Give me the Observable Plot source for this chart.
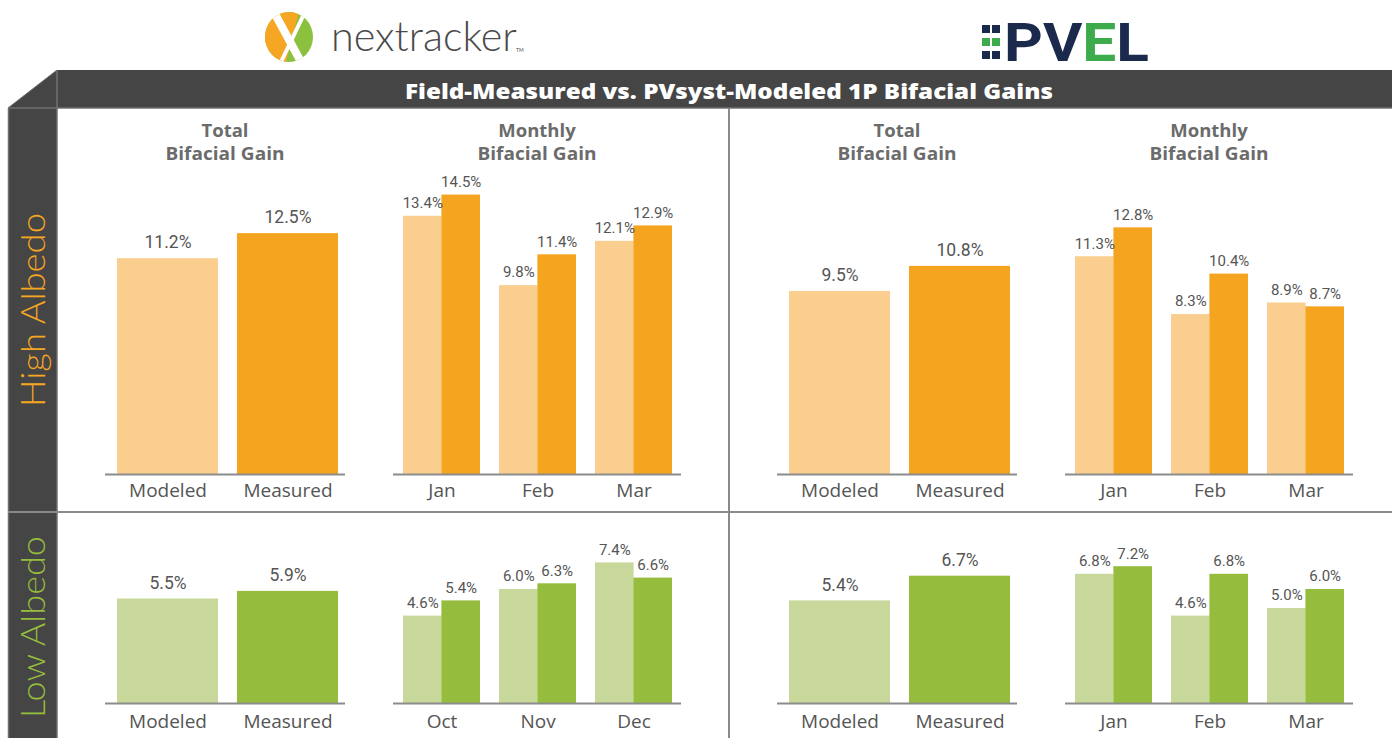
<!DOCTYPE html>
<html>
<head>
<meta charset="utf-8">
<script src="https://cdn.jsdelivr.net/npm/d3@7"></script>
<script src="https://cdn.jsdelivr.net/npm/@observablehq/plot@0.6"></script>
<style>
  html, body { margin: 0; padding: 0; background: #fff; }
  #root { position: relative; width: 1392px; height: 738px; overflow: hidden; background: #fff; }
  .abs { position: absolute; }
</style>
</head>
<body>
<div id="root"></div>
<script>
// ---------------- DATA ----------------
const totalCategories = ["Modeled", "Measured"];

const nxHighTotal = [11.2, 12.5];
const nxHighMonths = ["Jan", "Feb", "Mar"];
const nxHighModeled = [13.4, 9.8, 12.1];
const nxHighMeasured = [14.5, 11.4, 12.9];

const nxLowTotal = [5.5, 5.9];
const nxLowMonths = ["Oct", "Nov", "Dec"];
const nxLowModeled = [4.6, 6.0, 7.4];
const nxLowMeasured = [5.4, 6.3, 6.6];

const pvHighTotal = [9.5, 10.8];
const pvHighMonths = ["Jan", "Feb", "Mar"];
const pvHighModeled = [11.3, 8.3, 8.9];
const pvHighMeasured = [12.8, 10.4, 8.7];

const pvLowTotal = [5.4, 6.7];
const pvLowMonths = ["Jan", "Feb", "Mar"];
const pvLowModeled = [6.8, 4.6, 5.0];
const pvLowMeasured = [7.2, 6.8, 6.0];

const title = "Field-Measured vs. PVsyst-Modeled 1P Bifacial Gains";
const rowLabels = ["High Albedo", "Low Albedo"];
const panelTitles = [["Total", "Bifacial Gain"], ["Monthly", "Bifacial Gain"]];

// ---------------- STYLE ----------------
const orangeLight = "#FACE8F", orangeDark = "#F5A41F";
const greenLight = "#C8D89B", greenDark = "#96BC3D";
const labelColor = "#555555";

const root = document.getElementById("root");
const NS = "http://www.w3.org/2000/svg";

// ---------------- FRAME (decoration) ----------------
function el(tag, attrs, parent, text) {
  const e = document.createElementNS(NS, tag);
  for (const k in attrs) e.setAttribute(k, attrs[k]);
  if (text != null) e.textContent = text;
  parent.appendChild(e);
  return e;
}
const frame = document.createElementNS(NS, "svg");
frame.setAttribute("width", 1392);
frame.setAttribute("height", 738);
frame.setAttribute("class", "abs");
frame.style.left = "0px"; frame.style.top = "0px";
root.appendChild(frame);

// nextracker logo
const defs = el("defs", {}, frame);
const cp = el("clipPath", {id: "logoclip"}, defs);
el("ellipse", {cx: 289, cy: 37, rx: 24, ry: 25}, cp);
const lg = el("g", {"clip-path": "url(#logoclip)"}, frame);
el("rect", {x: 260, y: 8, width: 60, height: 60, fill: "#8CC03F"}, lg);
el("polygon", {points: "260,8 300,8 286,62 260,62", fill: "#F5A623"}, lg);
el("line", {x1: 275, y1: 14, x2: 300, y2: 60, stroke: "#fff", "stroke-width": 8}, lg);
el("line", {x1: 304, y1: 14, x2: 281, y2: 62, stroke: "#fff", "stroke-width": 4}, lg);
el("text", {x: 331, y: 51, "font-family": "Lato, 'Open Sans', sans-serif", "font-weight": 300,
  "font-size": 41, fill: "#4a4a4a", textLength: 186, lengthAdjust: "spacingAndGlyphs"}, frame, "nextracker");
el("text", {x: 516, y: 52, "font-family": "Lato, sans-serif", "font-size": 5, fill: "#4a4a4a"}, frame, "TM");

// PVEL logo
const navy = "#1B2A4C", pvGreen = "#3DAA4B";
[[982, 25, navy], [992, 25, navy], [982, 38, pvGreen], [992, 38, pvGreen], [982, 51, navy], [992, 51, navy]]
  .forEach(([x, y, c]) => el("rect", {x, y, width: 8, height: 8, fill: c}, frame));
const pv = el("text", {x: 1004, y: 61, "font-family": "Roboto, 'Open Sans', sans-serif", "font-weight": 700,
  "font-size": 53, textLength: 145, lengthAdjust: "spacingAndGlyphs"}, frame);
[["P", navy], ["V", navy], ["E", pvGreen], ["L", navy]].forEach(([t, c]) => el("tspan", {fill: c}, pv, t));

// banner and left column
const dark = "#454545", edge = "#707070";
el("rect", {x: 57, y: 70, width: 1335, height: 38, fill: dark}, frame);
el("polygon", {points: "8,108 57,70 57,108", fill: dark}, frame);
el("rect", {x: 8, y: 108, width: 49, height: 630, fill: dark}, frame);
el("line", {x1: 57, y1: 70, x2: 57, y2: 738, stroke: edge, "stroke-width": 1.5}, frame);
el("line", {x1: 8, y1: 108, x2: 1392, y2: 108, stroke: edge, "stroke-width": 1.5}, frame);
el("line", {x1: 8.5, y1: 108, x2: 8.5, y2: 738, stroke: edge, "stroke-width": 1.5}, frame);
el("line", {x1: 8, y1: 108, x2: 57, y2: 70, stroke: edge, "stroke-width": 1}, frame);
el("line", {x1: 729, y1: 108, x2: 729, y2: 738, stroke: "#8a8a8a", "stroke-width": 2}, frame);
el("line", {x1: 8, y1: 512, x2: 1392, y2: 512, stroke: "#8a8a8a", "stroke-width": 2}, frame);

el("text", {x: 729, y: 99, "text-anchor": "middle", "font-family": "'Open Sans', sans-serif", "font-weight": 800,
  "font-size": 21, fill: "#fff", textLength: 648, lengthAdjust: "spacingAndGlyphs"}, frame, title);

// row labels
el("text", {transform: "translate(45,310) rotate(-90)", "text-anchor": "middle", "font-family": "Lato, 'Open Sans', sans-serif",
  "font-weight": 300, "font-size": 33, fill: "#F5A623", textLength: 194, lengthAdjust: "spacingAndGlyphs"}, frame, rowLabels[0]);
el("text", {transform: "translate(45,627) rotate(-90)", "text-anchor": "middle", "font-family": "Lato, 'Open Sans', sans-serif",
  "font-weight": 300, "font-size": 33, fill: "#96BC3D", textLength: 182, lengthAdjust: "spacingAndGlyphs"}, frame, rowLabels[1]);

// panel titles
[[225, 0], [537, 1], [897, 0], [1209, 1]].forEach(([cx, k]) => {
  el("text", {x: cx, y: 137, "text-anchor": "middle", "font-family": "'Open Sans', sans-serif", "font-weight": 700,
    "font-size": 18.5, fill: "#6b6b6b"}, frame, panelTitles[k][0]);
  el("text", {x: cx, y: 160, "text-anchor": "middle", "font-family": "'Open Sans', sans-serif", "font-weight": 700,
    "font-size": 18.5, fill: "#6b6b6b", textLength: 119, lengthAdjust: "spacingAndGlyphs"}, frame, panelTitles[k][1]);
});

// ---------------- CHARTS ----------------
const rows = [
  {top: 160, height: 344, marginTop: 20, marginBottom: 30, ymax: 294 / 19.27, tickPadding: 9},
  {top: 520, height: 218, marginTop: 30, marginBottom: 35, ymax: 153 / 19.0, tickPadding: 11}
];

function place(svg, left, top) {
  const d = document.createElement("div");
  d.className = "abs";
  d.style.left = left + "px";
  d.style.top = top + "px";
  d.appendChild(svg);
  root.appendChild(d);
}

const baseStyle = {background: "transparent", fontFamily: "'Open Sans', sans-serif", fontSize: "19px", color: labelColor, overflow: "visible"};
const fmt = v => v.toFixed(1) + "%";

function totalPlot(left, row, values, light, darkC, labelSize) {
  const data = totalCategories.map((c, i) => ({category: c, value: values[i]}));
  const svg = Plot.plot({
    width: 320, height: row.height,
    marginLeft: 40, marginRight: 40, marginTop: row.marginTop, marginBottom: row.marginBottom,
    style: baseStyle,
    x: {domain: totalCategories, paddingInner: 0.16, paddingOuter: 0.08, align: 0.6, tickSize: 0, tickPadding: row.tickPadding, label: null},
    y: {domain: [0, row.ymax], axis: null},
    color: {domain: totalCategories, range: [light, darkC]},
    marks: [
      Plot.barY(data, {x: "category", y: "value", fill: "category"}),
      Plot.ruleY([0], {stroke: "#8c8c8c", strokeWidth: 2}),
      Plot.text(data, {x: "category", y: "value", text: d => fmt(d.value), dy: -16,
        fontSize: labelSize, fontFamily: "Roboto, sans-serif", fill: labelColor})
    ]
  });
  place(svg, left, row.top);
}

function monthlyPlot(left, row, months, modeled, measured, light, darkC) {
  const data = months.map((m, i) => ({month: m, modeled: modeled[i], measured: measured[i]}));
  const half = 96 * 0.8 / 2;
  const svg = Plot.plot({
    width: 348, height: row.height,
    marginLeft: 30, marginRight: 30, marginTop: row.marginTop, marginBottom: row.marginBottom,
    style: baseStyle,
    x: {domain: months, paddingInner: 0.2, paddingOuter: 0.1, tickSize: 0, tickPadding: row.tickPadding, label: null},
    y: {domain: [0, row.ymax], axis: null},
    marks: [
      Plot.barY(data, {x: "month", y: "modeled", fill: light, insetRight: half}),
      Plot.barY(data, {x: "month", y: "measured", fill: darkC, insetLeft: half}),
      Plot.ruleY([0], {stroke: "#8c8c8c", strokeWidth: 2}),
      Plot.text(data, {x: "month", y: "modeled", text: d => fmt(d.modeled), dx: -half / 2, dy: -13,
        fontSize: 15, fontFamily: "Roboto, sans-serif", fill: labelColor}),
      Plot.text(data, {x: "month", y: "measured", text: d => fmt(d.measured), dx: half / 2, dy: -13,
        fontSize: 15, fontFamily: "Roboto, sans-serif", fill: labelColor})
    ]
  });
  place(svg, left, row.top);
}

const off = 672;
totalPlot(65, rows[0], nxHighTotal, orangeLight, orangeDark, 17.5);
monthlyPlot(363, rows[0], nxHighMonths, nxHighModeled, nxHighMeasured, orangeLight, orangeDark);
totalPlot(65 + off, rows[0], pvHighTotal, orangeLight, orangeDark, 17.5);
monthlyPlot(363 + off, rows[0], pvHighMonths, pvHighModeled, pvHighMeasured, orangeLight, orangeDark);

totalPlot(65, rows[1], nxLowTotal, greenLight, greenDark, 17.5);
monthlyPlot(363, rows[1], nxLowMonths, nxLowModeled, nxLowMeasured, greenLight, greenDark);
totalPlot(65 + off, rows[1], pvLowTotal, greenLight, greenDark, 17.5);
monthlyPlot(363 + off, rows[1], pvLowMonths, pvLowModeled, pvLowMeasured, greenLight, greenDark);
</script>
</body>
</html>
